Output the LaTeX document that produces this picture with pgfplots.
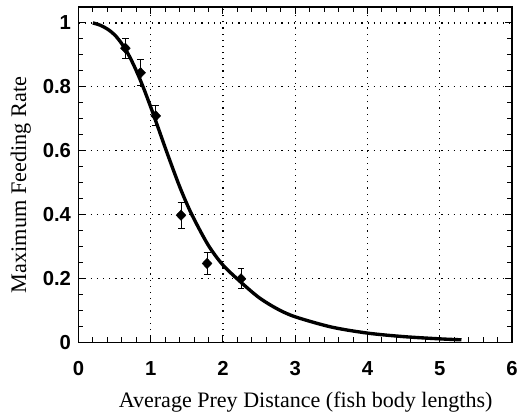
\documentclass[border=0pt]{standalone}
\usepackage{pgfplots}
\pgfplotsset{compat=1.18}
\usepackage{fontspec}
\setmainfont{Liberation Serif}
\newfontfamily\ticksfont{Liberation Sans}
\begin{document}
\begin{tikzpicture}
\begin{axis}[
  at={(0,0)}, anchor=south west,
  scale only axis, width=437bp, height=338bp,
  xmin=0, xmax=6, ymin=0, ymax=1.05,
  xtick={0,1,2,3,4,5,6}, ytick={0,0.2,0.4,0.6,0.8,1},
  yticklabels={0,0.2,0.4,0.6,0.8,1},
  minor x tick num=4, minor y tick num=3,
  tick align=inside, major tick length=7bp, minor tick length=5bp,
  every tick/.style={black, line width=1pt},
  axis line style={line width=1.5pt},
  grid=major,
  major grid style={black, line width=1.2pt, dash pattern=on 1.2bp off 5bp},
  /pgf/number format/assume math mode=true,
  ticklabel style={font=\ticksfont\bfseries\fontsize{20.5}{20.5}\selectfont},
  xticklabel style={yshift=-16bp},
  yticklabel style={xshift=-4bp},
  xlabel={Average Prey Distance (fish body lengths)},
  ylabel={Maximum Feeding Rate},
  xlabel style={font=\fontsize{22.3}{22.3}\selectfont, at={(axis description cs:0.524,-0.178)}, anchor=center},
  ylabel style={font=\fontsize{22.5}{22.5}\selectfont, at={(axis description cs:-0.1327,0.469)}, anchor=center},
]
\addplot[black, line width=3.4pt, smooth] coordinates {
(0.2,1.0) (0.3,0.993) (0.4,0.981) (0.5,0.963) (0.6,0.935) (0.7,0.898)
(0.8,0.851) (0.9,0.797) (1.0,0.737) (1.1,0.674) (1.2,0.610) (1.3,0.548)
(1.4,0.488) (1.5,0.434) (1.6,0.386) (1.8,0.303) (2.0,0.242) (2.25,0.188)
(2.5,0.140) (2.75,0.105) (3.0,0.080) (3.5,0.048) (4.0,0.029) (4.5,0.018)
(5.0,0.011) (5.3,0.008)
};
\addplot[black, only marks, mark=diamond*, mark size=5.3bp, mark options={xscale=1.25},
  error bars/.cd, y dir=both, y explicit,
  error bar style={line width=1pt},
  error mark options={rotate=90, mark size=3.5bp, line width=1pt}]
coordinates {
(0.65,0.921) +- (0,0.031)
(0.86,0.844) +- (0,0.041)
(1.07,0.709) +- (0,0.031)
(1.42,0.398) +- (0,0.041)
(1.78,0.247) +- (0,0.034)
(2.25,0.199) +- (0,0.031)
};
\end{axis}
\pgfresetboundingbox
\path (-79bp,-76bp) rectangle (445bp,345bp);
\end{tikzpicture}
\end{document}
